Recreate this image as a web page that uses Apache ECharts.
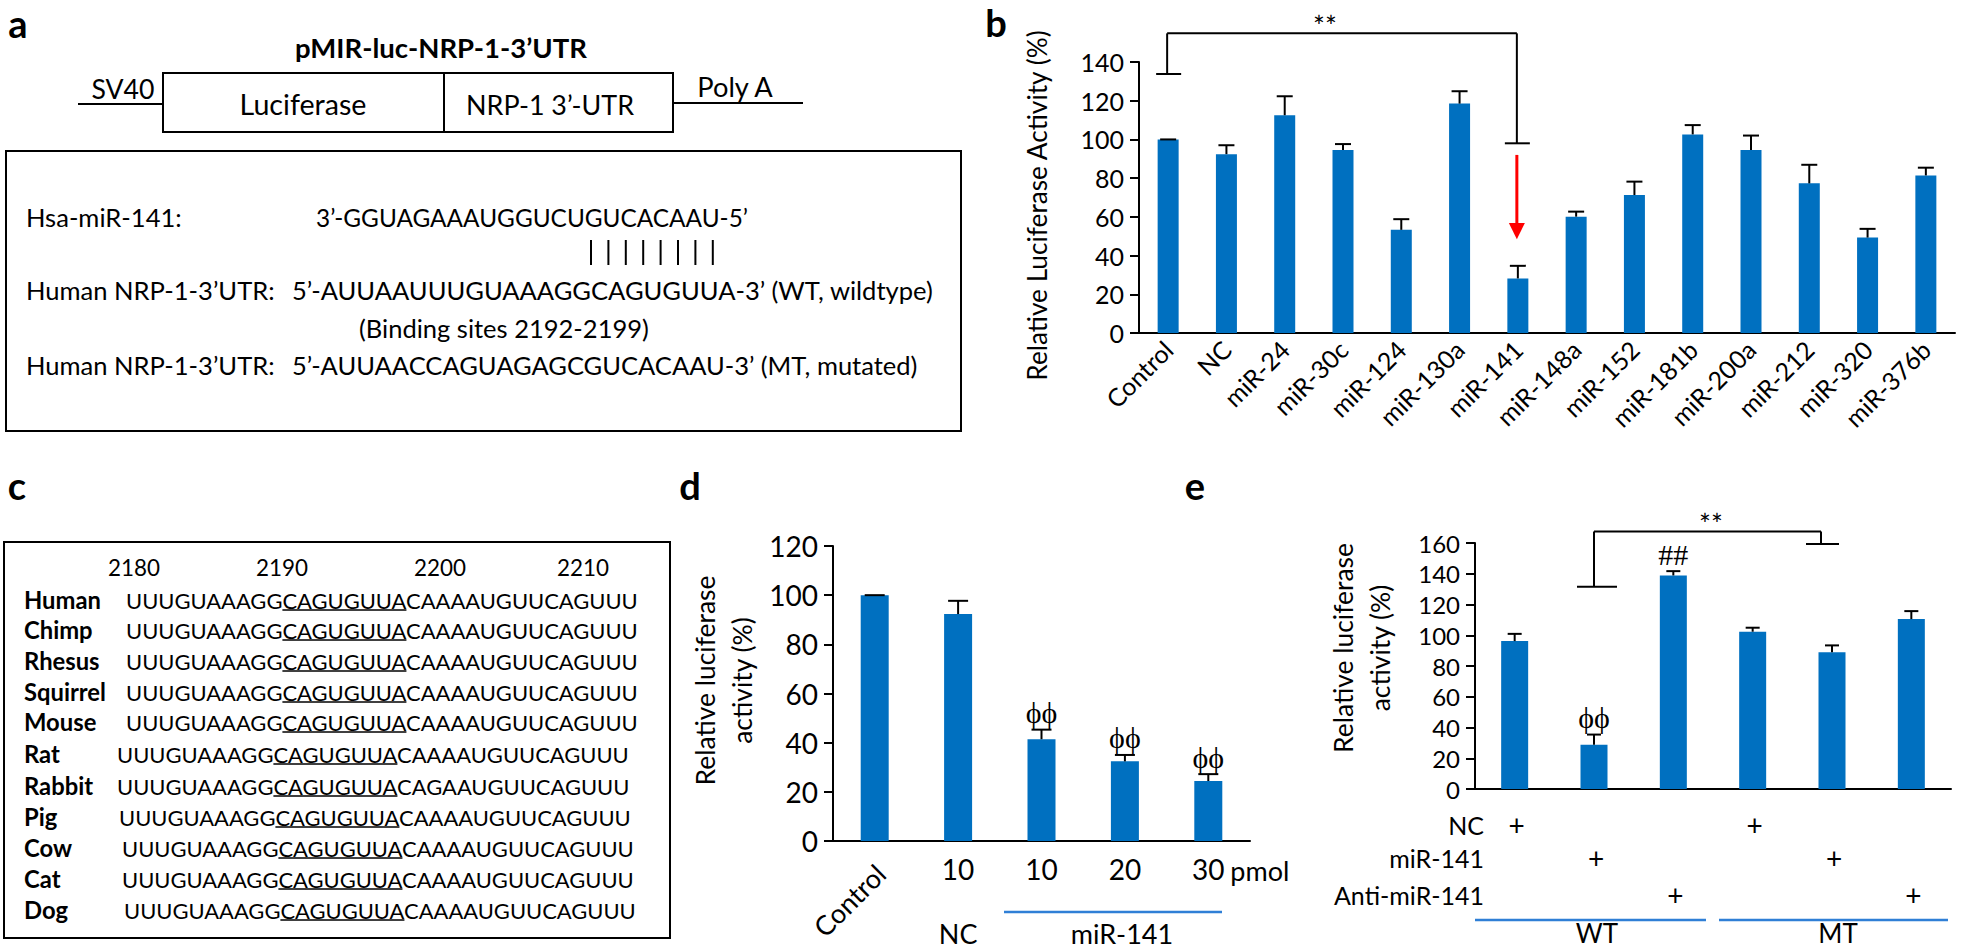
<!DOCTYPE html>
<html><head><meta charset="utf-8">
<script src="https://cdn.jsdelivr.net/npm/echarts@6/dist/echarts.min.js"></script>
<style>html,body{margin:0;padding:0;background:#fff;}#c{width:1961px;height:949px;}</style>
</head><body><div id="c"></div>
<script>
// ---------- DATA ----------
const bCategories = ['Control','NC','miR-24','miR-30c','miR-124','miR-130a','miR-141','miR-148a','miR-152','miR-181b','miR-200a','miR-212','miR-320','miR-376b'];
const bValues = [100, 92.4, 112.5, 94.5, 53.3, 118.5, 28.2, 60.1, 71.3, 102.6, 94.5, 77.3, 49.3, 81.4];
const bErrors = [0, 4.6, 9.8, 3.1, 5.5, 6.4, 6.5, 2.6, 6.9, 4.8, 7.5, 9.6, 4.5, 4.0];
const bTicks = [0, 140, 20];

const dCategories = ['Control','NC 10','miR-141 10','miR-141 20','miR-141 30'];
const dTickLabels = ['', '10', '10', '20', '30'];
const dValues = [100, 92.3, 41.4, 32.4, 24.4];
const dErrors = [0, 5.4, 3.9, 2.6, 2.8];
const dSig = ['', '', 'ϕϕ', 'ϕϕ', 'ϕϕ'];
const dTicks = [0, 120, 20];

const eCategories = ['WT NC','WT miR-141','WT Anti-miR-141','MT NC','MT miR-141','MT Anti-miR-141'];
const eValues = [96.2, 28.7, 138.9, 102.3, 88.9, 110.5];
const eErrors = [4.7, 6.7, 2.8, 2.6, 4.5, 5.2];
const eSig = ['', 'ϕϕ', '##', '', '', ''];
const eTicks = [0, 160, 20];
const eRowLabels = ['NC', 'miR-141', 'Anti-miR-141'];
const eRowNC   = ['+', '', '', '+', '', ''];
const eRowMiR  = ['', '+', '', '', '+', ''];
const eRowAnti = ['', '', '+', '', '', '+'];
const eGroups = ['WT', 'MT'];

const speciesNames = ['Human','Chimp','Rhesus','Squirrel','Mouse','Rat','Rabbit','Pig','Cow','Cat','Dog'];
const speciesSeqs = [
 'UUUGUAAAGGCAGUGUUACAAAAUGUUCAGUUU','UUUGUAAAGGCAGUGUUACAAAAUGUUCAGUUU','UUUGUAAAGGCAGUGUUACAAAAUGUUCAGUUU',
 'UUUGUAAAGGCAGUGUUACAAAAUGUUCAGUUU','UUUGUAAAGGCAGUGUUACAAAAUGUUCAGUUU','UUUGUAAAGGCAGUGUUACAAAAUGUUCAGUUU',
 'UUUGUAAAGGCAGUGUUACAGAAUGUUCAGUUU','UUUGUAAAGGCAGUGUUACAAAAUGUUCAGUUU','UUUGUAAAGGCAGUGUUACAAAAUGUUCAGUUU',
 'UUUGUAAAGGCAGUGUUACAAAAUGUUCAGUUU','UUUGUAAAGGCAGUGUUACAAAAUGUUCAGUUU'];
const positionLabels = ['2180','2190','2200','2210'];
const seedSite = 'CAGUGUUA';
const constructTitle = 'pMIR-luc-NRP-1-3’UTR';
const mirLabel = 'Hsa-miR-141:';
const mirSeq = '3’-GGUAGAAAUGGUCUGUCACAAU-5’';
const utrLabel = 'Human NRP-1-3’UTR:';
const wtSeq = '5’-AUUAAUUUGUAAAGGCAGUGUUA-3’ (WT, wildtype)';
const bindingNote = '(Binding sites 2192-2199)';
const mtSeq = '5’-AUUAACCAGUAGAGCGUCACAAU-3’ (MT, mutated)';

// ---------- HELPERS ----------
const F = 'Lato';
const SERIF = 'Liberation Serif';
const BLUE = '#0070C0';
const LBLUE = '#2f7fd6';
const mctx = document.createElement('canvas').getContext('2d');
function tw(text, size, weight, family) { mctx.font = (weight||'normal') + ' ' + size + 'px ' + (family||F); return mctx.measureText(text).width; }
function fit(text, width, weight, family) { return 100 * width / tw(text, 100, weight, family); }

function T(x, y, text, size, o) {
  o = o || {};
  return { type: 'text', x: x, y: y, rotation: o.rot || 0, z: 50,
    style: { text: text, fill: o.color || '#000', fontSize: size, fontFamily: o.family || F,
      fontWeight: o.weight || 'normal', align: o.align || 'left', textAlign: o.align || 'left',
      verticalAlign: o.va || 'middle', textVerticalAlign: o.va || 'middle' } };
}
function L(x1, y1, x2, y2, w, c) { return { type: 'line', z: 50, shape: { x1, y1, x2, y2 }, style: { stroke: c || '#000', lineWidth: w || 2 } }; }
function R(x, y, w, h, lw) { return { type: 'rect', z: 40, shape: { x, y, width: w, height: h }, style: { fill: 'none', stroke: '#000', lineWidth: lw || 2 } }; }

function axisPair(gi, cats, ticks, tickSize, labelOpt) {
  return {
    x: { type: 'category', gridIndex: gi, data: cats,
      axisLine: { lineStyle: { color: '#000', width: 2 } },
      axisTick: { length: 8, lineStyle: { color: '#000', width: 2 } },
      axisLabel: labelOpt },
    y: { type: 'value', gridIndex: gi, min: ticks[0], max: ticks[1], interval: ticks[2],
      splitLine: { show: false },
      axisLine: { show: true, lineStyle: { color: '#000', width: 2 } },
      axisTick: { show: true, length: 9, lineStyle: { color: '#000', width: 2 } },
      axisLabel: { fontFamily: F, fontSize: tickSize, color: '#000', margin: 15 } }
  };
}
function barSeries(gi, vals, w) {
  return { type: 'bar', xAxisIndex: gi, yAxisIndex: gi, data: vals, barWidth: w,
    itemStyle: { color: BLUE }, silent: true };
}
function errSeries(gi, vals, errs, capW, sig) {
  return { type: 'custom', xAxisIndex: gi, yAxisIndex: gi, z: 5, silent: true,
    data: vals.map((v, i) => [i, v, errs[i]]),
    renderItem: (params, api) => {
      const i = api.value(0), v = api.value(1), e = api.value(2);
      const p0 = api.coord([i, v]), p1 = api.coord([i, v + e]);
      const ch = [];
      if (e > 0) ch.push({ type: 'line', shape: { x1: p0[0], y1: p0[1], x2: p1[0], y2: p1[1] }, style: { stroke: '#000', lineWidth: 2 } });
      ch.push({ type: 'line', shape: { x1: p1[0] - capW / 2, y1: p1[1], x2: p1[0] + capW / 2, y2: p1[1] }, style: { stroke: '#000', lineWidth: 2 } });
      const s = sig && sig[params.dataIndex];
      if (s) ch.push({ type: 'text', x: p1[0], y: p1[1] - 2,
        style: { text: s, fill: '#000', fontFamily: SERIF, fontSize: 30, align: 'center', verticalAlign: 'bottom' } });
      return { type: 'group', children: ch };
    } };
}

// ---------- CHART ----------
const chart = echarts.init(document.getElementById('c'), null, { renderer: 'svg', width: 1961, height: 949 });

const bA = axisPair(0, bCategories, bTicks, 25, { rotate: 45, interval: 0, margin: 12, fontFamily: F, fontSize: 25, color: '#000' });
const dA = axisPair(1, dCategories, dTicks, 28, { interval: 0, margin: 14, fontFamily: F, fontSize: 28, color: '#000', formatter: (v, i) => dTickLabels[i] });
const eA = axisPair(2, eCategories, eTicks, 24, { show: false });

const bNameSize = fit('Relative Luciferase Activity (%)', 352);
const dNameSize = fit('Relative luciferase', 210);
bA.y.name = 'Relative Luciferase Activity (%)';
bA.y.nameLocation = 'middle'; bA.y.nameRotate = 90; bA.y.nameGap = 89;
bA.y.nameTextStyle = { fontFamily: F, fontSize: bNameSize, color: '#000', padding: [0, 16, 0, 0] };
dA.y.name = 'Relative luciferase\nactivity (%)';
dA.y.nameLocation = 'middle'; dA.y.nameRotate = 90; dA.y.nameGap = 73;
dA.y.nameTextStyle = { fontFamily: F, fontSize: dNameSize, lineHeight: 37, color: '#000', padding: [0, 0, 0, 26] };
eA.y.name = 'Relative luciferase\nactivity (%)';
eA.y.nameLocation = 'middle'; eA.y.nameRotate = 90; eA.y.nameGap = 77;
eA.y.nameTextStyle = { fontFamily: F, fontSize: dNameSize, lineHeight: 37, color: '#000', padding: [0, 0, 0, 36] };

chart.setOption({
  animation: false,
  backgroundColor: '#fff',
  grid: [
    { left: 1139, top: 62, width: 816, height: 271, containLabel: false, outerBoundsMode: 'none' },
    { left: 833, top: 546, width: 417, height: 295, containLabel: false, outerBoundsMode: 'none' },
    { left: 1475, top: 543, width: 476, height: 246, containLabel: false, outerBoundsMode: 'none' }
  ],
  xAxis: [bA.x, dA.x, eA.x],
  yAxis: [bA.y, dA.y, eA.y],
  series: [
    barSeries(0, bValues, 21), errSeries(0, bValues, bErrors, 16, null),
    barSeries(1, dValues, 28), errSeries(1, dValues, dErrors, 20, dSig),
    barSeries(2, eValues, 27), errSeries(2, eValues, eErrors, 14, eSig)
  ]
});

// ---------- ANNOTATIONS ----------
const P = (g, c, v) => chart.convertToPixel({ xAxisIndex: g, yAxisIndex: g }, [c, v]);
const G = [];

// panel letters
G.push(T(18, 23, 'a', 38, { weight: 'bold', align: 'center' }));
G.push(T(996, 22, 'b', 38, { weight: 'bold', align: 'center' }));
G.push(T(17, 485, 'c', 38, { weight: 'bold', align: 'center' }));
G.push(T(690, 485, 'd', 38, { weight: 'bold', align: 'center' }));
G.push(T(1195, 485, 'e', 38, { weight: 'bold', align: 'center' }));

// ---- panel a ----
G.push(T(441, 47, constructTitle, fit(constructTitle, 292, 'bold'), { weight: 'bold', align: 'center' }));
G.push(L(78, 104, 163, 104));
G.push(T(123, 89, 'SV40', fit('SV40', 63), { align: 'center' }));
G.push(R(163, 73, 510, 59));
G.push(L(444, 73, 444, 132));
G.push(T(303, 104, 'Luciferase', fit('Luciferase', 127), { align: 'center' }));
G.push(T(550, 104, 'NRP-1 3’-UTR', fit('NRP-1 3’-UTR', 168), { align: 'center' }));
G.push(L(673, 103, 803, 103));
G.push(T(735, 86, 'Poly A', fit('Poly A', 77), { align: 'center' }));
G.push(R(6, 151, 955, 280));
const aSize = fit(wtSeq, 642);
G.push(T(26, 217, mirLabel, aSize));
G.push(T(316, 217, mirSeq, fit(mirSeq, 432)));
for (let i = 0; i < 8; i++) { const x = 591 + i * 17.4; G.push(L(x, 240, x, 265, 2)); }
G.push(T(26, 290, utrLabel, aSize));
G.push(T(292, 290, wtSeq, aSize));
G.push(T(359, 328, bindingNote, fit(bindingNote, 290)));
G.push(T(26, 365, utrLabel, aSize));
G.push(T(292, 365, mtSeq, fit(mtSeq, 626)));

// ---- panel c ----
G.push(R(4, 542, 666, 396));
const cNumSize = fit('2180', 52);
const cNumX = [134, 282, 440, 583];
positionLabels.forEach((t, i) => G.push(T(cNumX[i], 567, t, cNumSize, { align: 'center' })));
const cRowY = [600, 630, 661, 692, 722, 754, 786, 817, 848, 879, 910];
const cSeqX = [126, 126, 126, 126, 126, 117, 117, 119, 122, 122, 124];
const cNameSize = fit('Squirrel', 82, 'bold');
const cSeqSize = fit(speciesSeqs[0], 512);
speciesNames.forEach((n, i) => {
  G.push(T(24, cRowY[i], n, cNameSize, { weight: 'bold' }));
  const s = speciesSeqs[i];
  G.push(T(cSeqX[i], cRowY[i], s, cSeqSize));
  const k = s.indexOf(seedSite);
  const u0 = cSeqX[i] + tw(s.slice(0, k), cSeqSize);
  const u1 = cSeqX[i] + tw(s.slice(0, k + seedSite.length), cSeqSize);
  G.push(L(u0, cRowY[i] + 10, u1, cRowY[i] + 10, 1.6));
});

// ---- panel b annotations ----
{
  const c0 = P(0, 0, 133.8), c0t = P(0, 0, 154.8), c6 = P(0, 6, 98);
  const xl = c0[0] - 1, xr = c6[0] - 1;
  G.push(L(xl, c0[1], xl, c0t[1]));
  G.push(L(xl, c0t[1], xr, c0t[1]));
  G.push(L(xr, c0t[1], xr, c6[1]));
  G.push(L(c0[0] - 12, c0[1], c0[0] + 13, c0[1]));
  G.push(L(c6[0] - 13, c6[1], c6[0] + 12, c6[1]));
  G.push(T(1325, c0t[1] + 7, '**', 28, { align: 'center', va: 'bottom' }));
  const a0 = P(0, 6, 92), a1 = P(0, 6, 56.8), a2 = P(0, 6, 48.4);
  G.push(L(a0[0] - 1, a0[1], a0[0] - 1, a1[1] + 2, 3, '#FF0000'));
  G.push({ type: 'polygon', z: 50, shape: { points: [[a1[0] - 9, a1[1]], [a1[0] + 7, a1[1]], [a1[0] - 1, a2[1]]] }, style: { fill: '#FF0000' } });
}

// ---- panel d annotations ----
{
  const p0 = P(1, 0, 0);
  G.push(T(p0[0] + 6, p0[1] + 28, 'Control', 27, { align: 'right', rot: Math.PI / 4 }));
  const p4 = P(1, 4, 0);
  G.push(T(p4[0] + 22, p4[1] + 29, 'pmol', 27));
  const p1 = P(1, 1, 0), p3 = P(1, 3, 0);
  G.push(T(p1[0], 933, 'NC', 27, { align: 'center' }));
  G.push(T(p3[0] - 3, 933, 'miR-141', 27, { align: 'center' }));
  G.push(L(1004, 912, 1222, 912, 2.5, LBLUE));
}

// ---- panel e annotations ----
{
  const rowY = [825, 858, 895];
  const rows = [eRowNC, eRowMiR, eRowAnti];
  const rs = fit('Anti-miR-141', 150);
  eRowLabels.forEach((t, r) => {
    G.push(T(1484, rowY[r], t, rs, { align: 'right' }));
    rows[r].forEach((m, i) => { if (m) { const p = P(2, i, 0); G.push(T(p[0] + 2, rowY[r], m, 28, { align: 'center' })); } });
  });
  const g0 = P(2, 0, 0), g2 = P(2, 2, 0), g3 = P(2, 3, 0), g5 = P(2, 5, 0);
  const half = (P(2, 1, 0)[0] - g0[0]) / 2;
  G.push(L(g0[0] - half, 920, g2[0] + half - 7, 920, 2.5, LBLUE));
  G.push(L(g3[0] - half + 6, 920, g5[0] + half - 3, 920, 2.5, LBLUE));
  G.push(T(P(2, 1, 0)[0] + 3, 933, eGroups[0], 26, { align: 'center' }));
  G.push(T(P(2, 4, 0)[0] + 6, 933, eGroups[1], 26, { align: 'center' }));
  // bracket
  const l0 = P(2, 1, 131.6), top = P(2, 1, 167.5), r0 = P(2, 4, 159.3);
  const xl = l0[0], xr = r0[0] - 11;
  G.push(L(xl, l0[1], xl, top[1]));
  G.push(L(xl, top[1], xr, top[1]));
  G.push(L(xr, top[1], xr, r0[1]));
  G.push(L(xl - 17, l0[1], xl + 23, l0[1]));
  G.push(L(xr - 15, r0[1], xr + 18, r0[1]));
  G.push(T(1711, top[1] + 7, '**', 28, { align: 'center', va: 'bottom' }));
}

chart.setOption({ graphic: { elements: G } });
</script></body></html>
